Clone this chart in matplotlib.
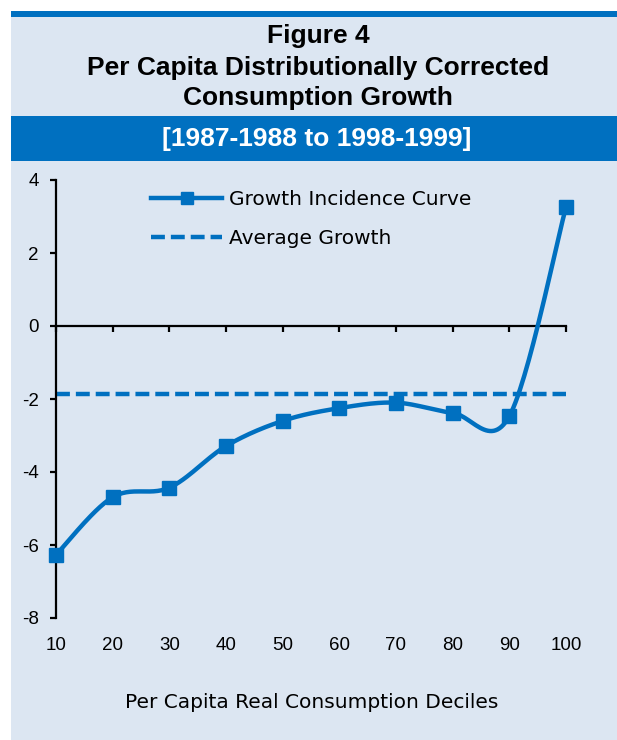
import numpy as np
import matplotlib
matplotlib.use("Agg")
import matplotlib.pyplot as plt
from matplotlib.patches import Rectangle
from matplotlib.lines import Line2D

plt.rcParams['axes.unicode_minus'] = False
plt.rcParams['lines.scale_dashes'] = False

# ---- data ----
deciles = [10, 20, 30, 40, 50, 60, 70, 80, 90, 100]
growth = [-6.27, -4.69, -4.43, -3.29, -2.60, -2.25, -2.10, -2.38, -2.47, 3.26]
average_growth = -1.85
yticks = [-8, -6, -4, -2, 0, 2, 4]
title_lines = ["Figure 4", "Per Capita Distributionally Corrected", "Consumption Growth"]
subtitle = "[1987-1988 to 1998-1999]"
xlabel = "Per Capita Real Consumption Deciles"
legend_labels = ["Growth Incidence Curve", "Average Growth"]

BLUE = "#0070C0"
PANEL = "#DCE6F2"

title_font = "Liberation Sans"
tick_font = "Liberation Sans"
text_font = "DejaVu Sans"

W, H = 617, 740
fig = plt.figure(figsize=(W / 100, H / 100), dpi=100, facecolor="white")

def fx(x):
    return x / W

def fy(y):
    return 1 - y / H

# background panel and bars
for (x0, y0, x1, y1, c) in [(11, 17, W, H, PANEL), (11, 11, W, 17, BLUE), (11, 116, W, 161, BLUE)]:
    fig.patches.append(Rectangle((fx(x0), fy(y1)), fx(x1) - fx(x0), fy(y0) - fy(y1),
                                 transform=fig.transFigure, facecolor=c, edgecolor="none",
                                 zorder=-10))

# titles
for t, yy in zip(title_lines, [36, 68, 98]):
    fig.text(fx(318), fy(yy), t, ha="center", va="center", fontsize=19, fontweight="bold",
             family=title_font, color="black")
fig.text(fx(317), fy(139), subtitle, ha="center", va="center", fontsize=19, fontweight="bold",
         family=title_font, color="white")

# axes
ax = fig.add_axes([fx(56), fy(618), fx(566) - fx(56), fy(180) - fy(618)])
ax.set_facecolor("none")
ax.set_xlim(10, 100)
ax.set_ylim(-8, 4)


def smooth(xs, ys, n=30):
    # Excel-like smoothed line (Catmull-Rom style Bezier)
    xs = np.asarray(xs, float)
    ys = np.asarray(ys, float)
    px = np.concatenate([[xs[0]], xs, [xs[-1]]])
    py = np.concatenate([[ys[0]], ys, [ys[-1]]])
    outx, outy = [], []
    t = np.linspace(0, 1, n)
    for i in range(1, len(px) - 2):
        p0 = np.array([px[i], py[i]])
        p3 = np.array([px[i + 1], py[i + 1]])
        p1 = p0 + (np.array([px[i + 1], py[i + 1]]) - np.array([px[i - 1], py[i - 1]])) / 6
        p2 = p3 - (np.array([px[i + 2], py[i + 2]]) - np.array([px[i], py[i]])) / 6
        b = ((1 - t) ** 3)[:, None] * p0 + (3 * (1 - t) ** 2 * t)[:, None] * p1 + \
            (3 * (1 - t) * t ** 2)[:, None] * p2 + (t ** 3)[:, None] * p3
        outx.extend(b[:, 0])
        outy.extend(b[:, 1])
    return np.array(outx), np.array(outy)


sx, sy = smooth(deciles, growth)
ax.plot(sx, sy, color=BLUE, lw=3.2, solid_capstyle="round", zorder=3, clip_on=False)
ax.plot(deciles, growth, ls="none", marker="s", ms=10.5, color=BLUE, zorder=4, clip_on=False)
ax.plot([deciles[0], deciles[-1]], [average_growth, average_growth], color=BLUE, lw=3.2,
        dashes=(10, 4.3), zorder=2)

# legend
h1 = Line2D([], [], color=BLUE, lw=3.2, marker="s", ms=9)
h2 = Line2D([], [], color=BLUE, lw=3.2, dashes=(10, 4.3))
leg = ax.legend([h1, h2], legend_labels, loc="upper left", bbox_to_anchor=(0.186, 0.977),
                frameon=False, handlelength=3.55, handletextpad=0.35,
                labelspacing=0.98, borderpad=0, borderaxespad=0,
                prop={"family": text_font, "size": 14.5})

# spines
for s in ["top", "right"]:
    ax.spines[s].set_visible(False)
ax.spines["bottom"].set_position(("data", 0))
ax.spines["left"].set_linewidth(1.6)
ax.spines["bottom"].set_linewidth(1.6)

ax.set_yticks(yticks)
ax.set_yticklabels([str(v) for v in yticks], family=tick_font, fontsize=13.5)
ax.tick_params(axis="y", direction="out", length=4.5, width=1.6, pad=8, colors="black")

ax.set_xticks(deciles)
ax.tick_params(axis="x", direction="out", length=4, width=1.6, labelbottom=False)

sec = ax.secondary_xaxis("bottom")
sec.set_xticks(deciles)
sec.set_xticklabels([str(d) for d in deciles], family=tick_font, fontsize=13.5)
sec.spines["bottom"].set_visible(False)
sec.tick_params(axis="x", length=0, pad=14)

fig.text(fx(312), fy(702), xlabel, ha="center", va="center", fontsize=14.5, family=text_font)

fig.savefig("out.png", dpi=100, facecolor="white")
